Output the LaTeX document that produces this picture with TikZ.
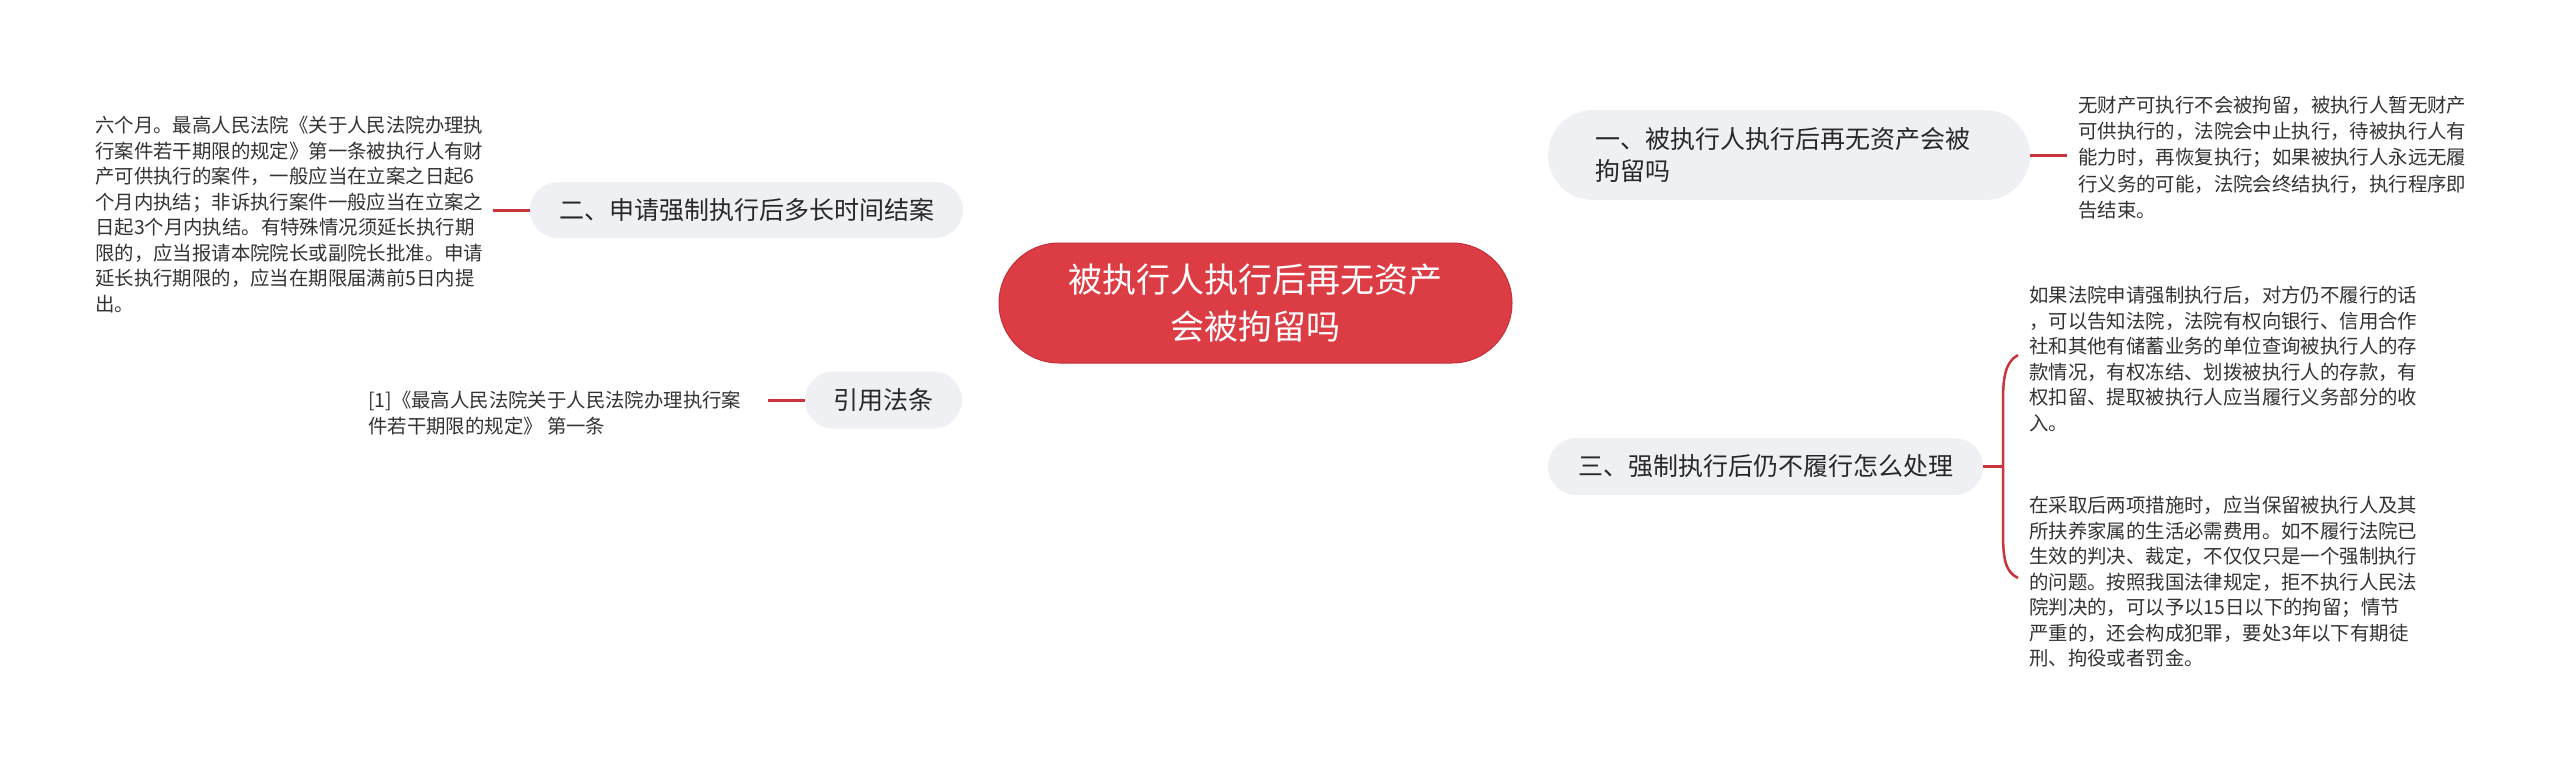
\documentclass[tikz,border=0pt]{standalone}
\usepackage{fontspec}
\setmainfont{Noto Sans CJK SC}
\definecolor{mainred}{RGB}{220,61,69}
\definecolor{mainredd}{RGB}{196,48,57}
\definecolor{linkred}{RGB}{201,52,61}
\definecolor{nodegray}{RGB}{238,240,243}
\definecolor{textdark}{RGB}{40,40,40}
\definecolor{leaftext}{RGB}{51,51,51}
\pgfdeclarelayer{bg}
\pgfsetlayers{bg,main}
\tikzset{
  mainnode/.style={rectangle, rounded corners=60pt, fill=mainred, draw=mainredd, line width=1pt,
    text=white, minimum width=513pt, minimum height=120pt, inner sep=0pt, align=center,
    font=\fontsize{34}{47}\selectfont},
  branch/.style={rectangle, fill=nodegray, text=textdark, inner sep=0pt,
    font=\fontsize{25}{32}\selectfont},
  leaf/.style={inner sep=0pt, anchor=north west, align=left, text=leaftext,
    font=\fontsize{19.4}{25.5}\selectfont},
  link/.style={draw=linkred, line width=3pt}
}
\begin{document}
\begin{tikzpicture}[x=1pt,y=-1pt]
\useasboundingbox[fill=white] (0,0) rectangle (2560,761);

% main and branch nodes
\node[mainnode] (c) at (1255.5,303) {被执行人执行后再无资产\\会被拘留吗};
\node[branch, rounded corners=45pt, minimum height=90pt, text width=388pt, inner xsep=47pt, align=left]
  (b1) at (1789,155) {一、被执行人执行后再无资产会被\\拘留吗};
\node[branch, rounded corners=28pt, minimum width=433pt, minimum height=56pt]
  (b2) at (746.5,210) {二、申请强制执行后多长时间结案};
\node[branch, rounded corners=28.5pt, minimum width=435pt, minimum height=57pt]
  (b3) at (1765.5,466.5) {三、强制执行后仍不履行怎么处理};
\node[branch, rounded corners=28.5pt, minimum width=157pt, minimum height=57pt]
  (b4) at (883.5,400) {引用法条};

% leaf texts
\node[leaf] (l2) at (95,116) {六个月。最高人民法院《关于人民法院办理执\\行案件若干期限的规定》第一条被执行人有财\\产可供执行的案件，一般应当在立案之日起6\\个月内执结；非诉执行案件一般应当在立案之\\日起3个月内执结。有特殊情况须延长执行期\\限的，应当报请本院院长或副院长批准。申请\\延长执行期限的，应当在期限届满前5日内提\\出。};
\node[leaf, font=\fontsize{19.4}{26}\selectfont] (l4) at (368,391) {[1]《最高人民法院关于人民法院办理执行案\\件若干期限的规定》 第一条};
\node[leaf, font=\fontsize{19.4}{26.2}\selectfont] (l1) at (2078,96) {无财产可执行不会被拘留，被执行人暂无财产\\可供执行的，法院会中止执行，待被执行人有\\能力时，再恢复执行；如果被执行人永远无履\\行义务的可能，法院会终结执行，执行程序即\\告结束。};
\node[leaf] (l3a) at (2029,286) {如果法院申请强制执行后，对方仍不履行的话\\，可以告知法院，法院有权向银行、信用合作\\社和其他有储蓄业务的单位查询被执行人的存\\款情况，有权冻结、划拨被执行人的存款，有\\权扣留、提取被执行人应当履行义务部分的收\\入。};
\node[leaf] (l3b) at (2029,496) {在采取后两项措施时，应当保留被执行人及其\\所扶养家属的生活必需费用。如不履行法院已\\生效的判决、裁定，不仅仅只是一个强制执行\\的问题。按照我国法律规定，拒不执行人民法\\院判决的，可以予以15日以下的拘留；情节\\严重的，还会构成犯罪，要处3年以下有期徒\\刑、拘役或者罚金。};

% free ends of short connectors
\coordinate (e1) at (2067,155);
\coordinate (e2) at (493,210);
\coordinate (e4) at (768,400);
\coordinate (e3) at (2003,466.5);
\coordinate (bt) at (2018,355);
\coordinate (bb) at (2018,578);

\begin{pgfonlayer}{bg}
\draw[link] (c.center) .. controls (1275,150) and (1340,155) .. (b1.west);
\draw[link] (c.center) .. controls (1220,220) and (1080,210) .. (b2.east);
\draw[link] (c.center) .. controls (1222,390) and (1080,400) .. (b4.east);
\draw[link] (c.center) .. controls (1280,440) and (1380,466.5) .. (b3.west);
\end{pgfonlayer}

\draw[link] (b1.east) -- (e1);
\draw[link] (b2.west) -- (e2);
\draw[link] (b4.west) -- (e4);
\draw[link] (b3.east) -- (e3);
\draw[link, line width=2.5pt] (bt) .. controls (2005,362) and (2003,378) .. (2003,402) -- (2003,532)
  .. controls (2003,558) and (2005,572) .. (bb);
\end{tikzpicture}
\end{document}
